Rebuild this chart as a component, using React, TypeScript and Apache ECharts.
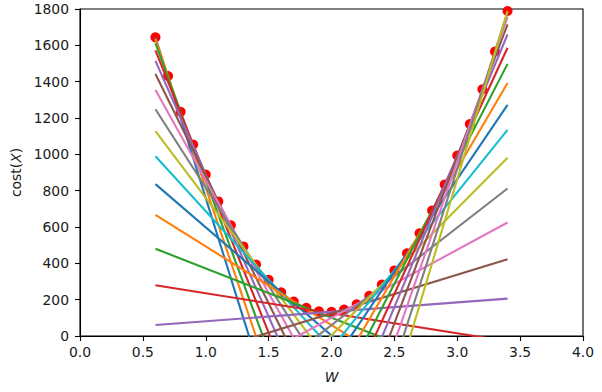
import React, { useEffect, useRef } from "react";
import * as echarts from "echarts";

// Weights (x positions of the red points)
const W_VALUES = [
  0.6, 0.7, 0.8, 0.9, 1.0, 1.1, 1.2, 1.3, 1.4, 1.5, 1.6, 1.7, 1.8, 1.9, 2.0,
  2.1, 2.2, 2.3, 2.4, 2.5, 2.6, 2.7, 2.8, 2.9, 3.0, 3.1, 3.2, 3.3, 3.4,
];
// cost(W)
const COSTS = [
  1644, 1431, 1234, 1054, 889, 741, 609, 493, 393, 309, 241, 190, 155, 136, 133,
  146, 175, 221, 283, 361, 455, 565, 691, 834, 993, 1167, 1358, 1566, 1789,
];
// slopes of the tangent lines drawn at each point
const SLOPES = [
  -2211, -2049, -1887, -1726, -1564, -1403, -1241, -1079, -918, -756, -595, -433,
  -271, -110, 52, 213, 375, 537, 698, 860, 1021, 1183, 1345, 1506, 1668, 1829,
  1991, 2152, 2314,
];
// x extent of every tangent line
const LINE_RANGE = [0.6, 3.4];

const X_AXIS = { min: 0, max: 4, interval: 0.5 };
const Y_AXIS = { min: 0, max: 1800, interval: 200 };

const COLORS = [
  "#1f77b4", "#ff7f0e", "#2ca02c", "#d62728", "#9467bd",
  "#8c564b", "#e377c2", "#7f7f7f", "#bcbd22", "#17becf",
];

const FONT = "DejaVu Sans";
const TEXT = "#1a1a1a";

export default function App() {
  const ref = useRef<HTMLDivElement>(null);

  useEffect(() => {
    if (!ref.current) return;
    const chart = echarts.init(ref.current, undefined, { renderer: "svg" });

    const lineSeries = W_VALUES.map((w, i) => ({
      type: "line",
      silent: true,
      clip: true,
      showSymbol: false,
      symbol: "none",
      data: LINE_RANGE.map((x) => [x, COSTS[i] + SLOPES[i] * (x - w)]),
      lineStyle: { color: COLORS[i % COLORS.length], width: 2.1 },
      itemStyle: { color: COLORS[i % COLORS.length] },
    }));

    chart.setOption({
      animation: false,
      grid: {
        left: 80,
        top: 9,
        width: 503,
        height: 327,
        show: true,
        borderColor: "#000",
        borderWidth: 1.1,
        containLabel: false,
      },
      xAxis: {
        type: "value",
        min: X_AXIS.min,
        max: X_AXIS.max,
        interval: X_AXIS.interval,
        splitLine: { show: false },
        axisLine: { show: true, onZero: false, lineStyle: { color: "#000", width: 1.1 } },
        axisTick: { show: true, inside: false, length: 5, lineStyle: { color: "#000", width: 1.1 } },
        axisLabel: {
          color: TEXT,
          fontFamily: FONT,
          fontSize: 13.9,
          margin: 9,
          formatter: (v: number) => v.toFixed(1),
        },
        name: "W",
        nameLocation: "middle",
        nameGap: 34,
        nameTextStyle: { color: TEXT, fontFamily: FONT, fontSize: 13.9, fontStyle: "italic" },
      },
      yAxis: {
        type: "value",
        min: Y_AXIS.min,
        max: Y_AXIS.max,
        interval: Y_AXIS.interval,
        splitLine: { show: false },
        axisLine: { show: true, onZero: false, lineStyle: { color: "#000", width: 1.1 } },
        axisTick: { show: true, inside: false, length: 5, lineStyle: { color: "#000", width: 1.1 } },
        axisLabel: {
          color: TEXT,
          fontFamily: FONT,
          fontSize: 13.9,
          margin: 11,
          formatter: (v: number) => String(v),
        },
        name: "{n|cost(}{i|X}{n|)}",
        nameLocation: "middle",
        nameGap: 57,
        nameTextStyle: {
          color: TEXT,
          fontFamily: FONT,
          fontSize: 13.9,
          rich: {
            n: { color: TEXT, fontFamily: FONT, fontSize: 13.9 },
            i: { color: TEXT, fontFamily: FONT, fontSize: 13.9, fontStyle: "italic" },
          },
        },
      },
      series: [
        {
          type: "scatter",
          silent: true,
          clip: true,
          symbolSize: 10,
          data: W_VALUES.map((w, i) => [w, COSTS[i]]),
          itemStyle: { color: "#ff0000", opacity: 1 },
        },
        ...lineSeries,
      ],
    });

    return () => chart.dispose();
  }, []);

  return (
    <div
      ref={ref}
      style={{ position: "fixed", left: 0, top: 0, width: 602, height: 392, background: "#fff" }}
    />
  );
}
